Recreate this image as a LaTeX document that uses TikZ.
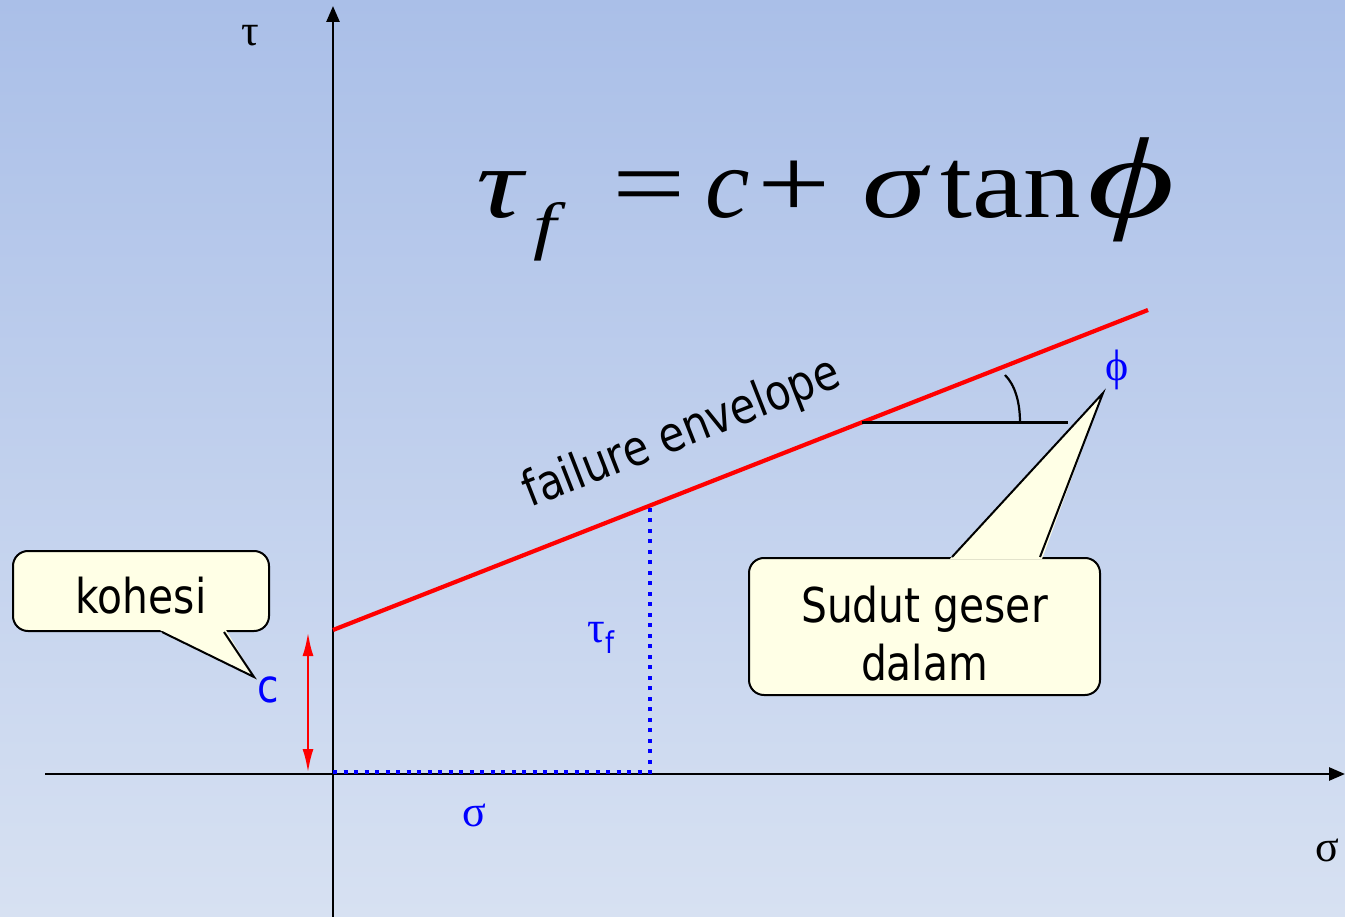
\documentclass[tikz,border=0pt]{standalone}
\usepackage{fontspec}
\usepackage{graphicx}
\usetikzlibrary{arrows.meta,calc}
\newfontfamily\tah[FakeStretch=0.85]{DejaVu Sans}
\newfontfamily\tnr{Liberation Serif}
\newfontfamily\tnrw[FakeStretch=1.15]{Liberation Serif}
\newfontfamily\tnrW[FakeStretch=1.3]{Liberation Serif}
\definecolor{bgtop}{RGB}{170,191,232}
\definecolor{bgbot}{RGB}{215,225,242}
\definecolor{callfill}{RGB}{255,255,230}
\begin{document}
\begin{tikzpicture}[x=1pt,y=-1pt,
  axisline/.style={line width=2.6pt,-{Triangle[length=16pt,width=13pt]}},
  envline/.style={draw=red,line width=4.2pt},
  dotline/.style={draw=blue,line width=3.6pt,dash pattern=on 4pt off 6.5pt},
  callbox/.style={draw=black,line width=2pt,fill=callfill,rounded corners=15pt,inner sep=0pt},
  calltext/.style={font=\tah\fontsize{48}{58}\selectfont,align=center,inner sep=0pt,anchor=base},
  greek/.style={font=\tnr\fontsize{44}{48}\selectfont,inner sep=0pt},
  bluegreek/.style={greek,text=blue},
  sanslbl/.style={font=\tah\fontsize{49}{52}\selectfont,inner sep=0pt}]
\useasboundingbox (0,0) rectangle (1345,917);
\shade[top color=bgtop,bottom color=bgbot] (0,0) rectangle (1345,917);

% axes
\coordinate (xs) at (45,774);
\coordinate (xe) at (1345,774);
\coordinate (ys) at (333,917);
\coordinate (ye) at (333,6);
\draw[axisline] (xs) -- (xe);
\draw[axisline] (ys) -- (ye);
\node[greek] (taulbl) at (250,36) {τ};
\node[greek] (siglbl) at (1327,850) {σ};

% formula
\node[anchor=base west,inner sep=0pt,font=\tnrW\fontsize{100}{110}\selectfont] (formula) at (476,218)
 {\makebox[57pt][l]{\itshape τ}\makebox[79pt][l]{\raisebox{-0.3em}{\fontsize{64}{70}\selectfont\itshape f}}\makebox[93pt][l]{=}\makebox[52pt][l]{\tnr\itshape c}\makebox[105pt][l]{+}\makebox[78pt][l]{\itshape σ}\makebox[147pt][l]{\tnrw tan}{\itshape\scalebox{1.3}[1.15]{ϕ}}};

% failure envelope
\coordinate (c0) at (333,630);
\coordinate (fe) at (1148,310);
\coordinate (tp) at (650,505.5);
\coordinate (o) at (333,772);
\coordinate (fb) at (650,772);
\draw[dotline] (o) -- (fb) -- (tp);
\draw[envline] (c0) -- (fe);
\node[sanslbl,rotate=21.4] (envlbl) at (682,434) {failure envelope};

% angle
\coordinate (ab) at (862,422.5);
\coordinate (ae) at (1068,422.5);
\coordinate (a1) at (1020,422.5);
\coordinate (a2) at (1005,375);
\draw[line width=2.2pt] (ab) -- (ae);
\draw[line width=2.2pt] (a1) .. controls (1020,402) and (1015,385) .. (a2);
\node[bluegreek] (philbl) at (1117,370) {ϕ};

% cohesion arrow
\coordinate (ct) at (308,632);
\coordinate (cb) at (308,773);
\draw[red,line width=2.8pt,{Latex[length=24pt,width=11pt]}-{Latex[length=24pt,width=11pt]}] (cb) -- (ct);
\node[sanslbl,text=blue,font=\tah\fontsize{46}{50}\selectfont] (clbl) at (268,690) {c};

% labels
\node[bluegreek] (tauf) at (601,638) {τ\raisebox{-0.25em}{\tah\fontsize{30}{32}\selectfont f}};
\node[bluegreek] (sig) at (474,815) {σ};

% kohesi callout
\node[callbox,minimum width=256pt,minimum height=80pt] (koh) at (141,591) {};
\coordinate (kt) at (254,677);
\fill[callfill] ($(koh.south west)+(148,-2)$) -- (kt) -- ($(koh.south west)+(214,-2)$) -- cycle;
\draw[line width=2pt,line join=miter] ($(koh.south west)+(150,0)$) -- (kt) -- ($(koh.south west)+(212,0)$);
\node[calltext] (kohtxt) at (141,613) {kohesi};

% sudut callout
\node[callbox,minimum width=351pt,minimum height=137pt] (sud) at (924.5,626.5) {};
\coordinate (st) at (1103,393);
\fill[callfill] ($(sud.north west)+(202,2)$) -- (st) -- ($(sud.north west)+(294,2)$) -- cycle;
\draw[line width=2pt,line join=miter] ($(sud.north west)+(204,0)$) -- (st) -- ($(sud.north west)+(292,0)$);
\node[calltext] (sudtxt) at (924.5,680) {Sudut geser\\dalam};
\end{tikzpicture}
\end{document}
